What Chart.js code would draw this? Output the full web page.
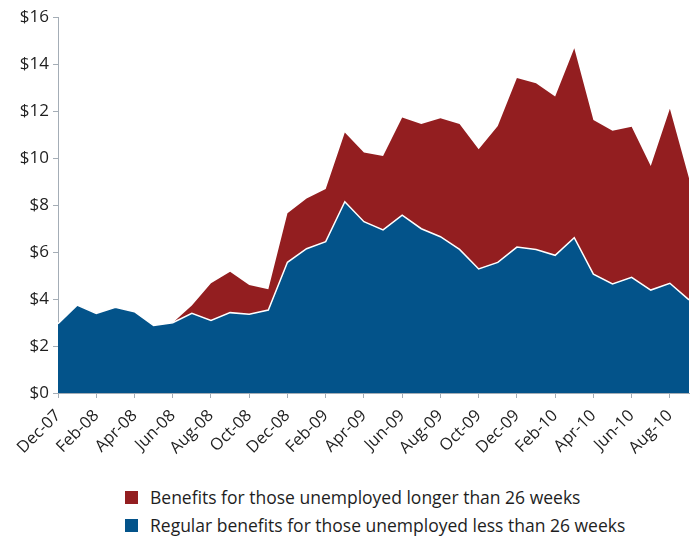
<!DOCTYPE html>
<html>
<head>
<meta charset="utf-8">
<script src="https://cdn.jsdelivr.net/npm/chart.js@4/dist/chart.umd.min.js"></script>
<style>
  body { margin: 0; background: #fff; }
  #wrap { position: relative; width: 696px; height: 539px; }
  #chart-box { position: absolute; left: 0; top: 0; width: 696px; height: 468px; }
  #legend {
    position: absolute; left: 125px; top: 483px;
    font-family: "Open Sans", sans-serif; font-size: 17.5px; color: #1e1e1e;
  }
  .item { display: flex; align-items: center; height: 28px; }
  .swatch { width: 13px; height: 13px; margin-right: 12px; }
</style>
</head>
<body>
<div id="wrap">
  <div id="chart-box"><canvas id="benefits"></canvas></div>
  <div id="legend"></div>
</div>
<script>
// monthly, Dec-07 .. Sep-10 (billions of dollars)
const months = [
  "Dec-07",
  "Jan-08", "Feb-08", "Mar-08", "Apr-08", "May-08", "Jun-08",
  "Jul-08", "Aug-08", "Sep-08", "Oct-08", "Nov-08", "Dec-08",
  "Jan-09", "Feb-09", "Mar-09", "Apr-09", "May-09", "Jun-09",
  "Jul-09", "Aug-09", "Sep-09", "Oct-09", "Nov-09", "Dec-09",
  "Jan-10", "Feb-10", "Mar-10", "Apr-10", "May-10", "Jun-10",
  "Jul-10", "Aug-10", "Sep-10",
];

const regularBenefits = [
  2.95,
  3.74, 3.39, 3.65, 3.46, 2.87, 2.99,
  3.39, 3.09, 3.42, 3.35, 3.53, 5.56,
  6.14, 6.44, 8.14, 7.29, 6.94, 7.57,
  6.99, 6.65, 6.11, 5.28, 5.56, 6.21,
  6.11, 5.86, 6.61, 5.06, 4.64, 4.92,
  4.38, 4.67, 3.96,
];

const longTermBenefits = [
  0,
  0, 0, 0, 0, 0, 0,
  0.33, 1.58, 1.74, 1.25, 0.88, 2.09,
  2.14, 2.24, 2.95, 2.94, 3.15, 4.15,
  4.46, 5.04, 5.34, 5.09, 5.80, 7.19,
  7.07, 6.76, 8.06, 6.56, 6.52, 6.41,
  5.28, 7.43, 5.18,
];

const yTicks = [0, 2, 4, 6, 8, 10, 12, 14, 16];

const BLUE = "#03538a";
const RED = "#931e20";
const AXIS = "#a4adb6";
const TEXT = "#1e1e1e";

const ctx = document.getElementById("benefits").getContext("2d");

new Chart(ctx, {
  type: "line",
  data: {
    labels: months,
    datasets: [
      {
        label: "Regular benefits for those unemployed less than 26 weeks",
        data: regularBenefits,
        backgroundColor: BLUE,
        borderColor: "#ffffff",
        borderWidth: 1.5,
        fill: "origin",
        pointRadius: 0,
        tension: 0,
      },
      {
        label: "Benefits for those unemployed longer than 26 weeks",
        data: longTermBenefits,
        backgroundColor: RED,
        borderColor: RED,
        borderWidth: 0,
        fill: "-1",
        pointRadius: 0,
        tension: 0,
      },
    ],
  },
  options: {
    responsive: true,
    maintainAspectRatio: false,
    animation: false,
    layout: { padding: { left: 0, right: 7, top: 17, bottom: 0 } },
    plugins: {
      legend: { display: false },
      tooltip: { enabled: false },
    },
    scales: {
      x: {
        offset: false,
        grid: {
          drawOnChartArea: false,
          tickLength: 5,
          color: (c) => (c.index % 2 === 0 ? AXIS : "rgba(0,0,0,0)"),
        },
        border: { color: AXIS, width: 1 },
        ticks: {
          autoSkip: false,
          maxRotation: 45,
          minRotation: 45,
          padding: 8,
          color: TEXT,
          font: { family: "Open Sans", size: 16.5 },
          callback: (v, i) => (i % 2 === 0 ? months[i] : ""),
        },
        afterFit: (scale) => {
          scale.height = 75;
          scale.paddingRight = 0;
        },
      },
      y: {
        stacked: true,
        min: 0,
        max: 16,
        afterBuildTicks: (scale) => {
          scale.ticks = yTicks.map((v) => ({ value: v }));
        },
        grid: {
          drawOnChartArea: false,
          tickLength: 5,
          color: AXIS,
        },
        border: { color: AXIS, width: 1 },
        ticks: {
          padding: 4,
          color: TEXT,
          font: { family: "Open Sans", size: 17 },
          callback: (v) => "$" + v,
        },
        afterFit: (scale) => { scale.width = 58; },
      },
    },
  },
});

// legend: long-term first, then regular
const legend = document.getElementById("legend");
[
  ["Benefits for those unemployed longer than 26 weeks", RED],
  ["Regular benefits for those unemployed less than 26 weeks", BLUE],
].forEach(([text, color]) => {
  const row = document.createElement("div");
  row.className = "item";
  row.innerHTML = '<span class="swatch" style="background:' + color + '"></span>' + text;
  legend.appendChild(row);
});
</script>
</body>
</html>
